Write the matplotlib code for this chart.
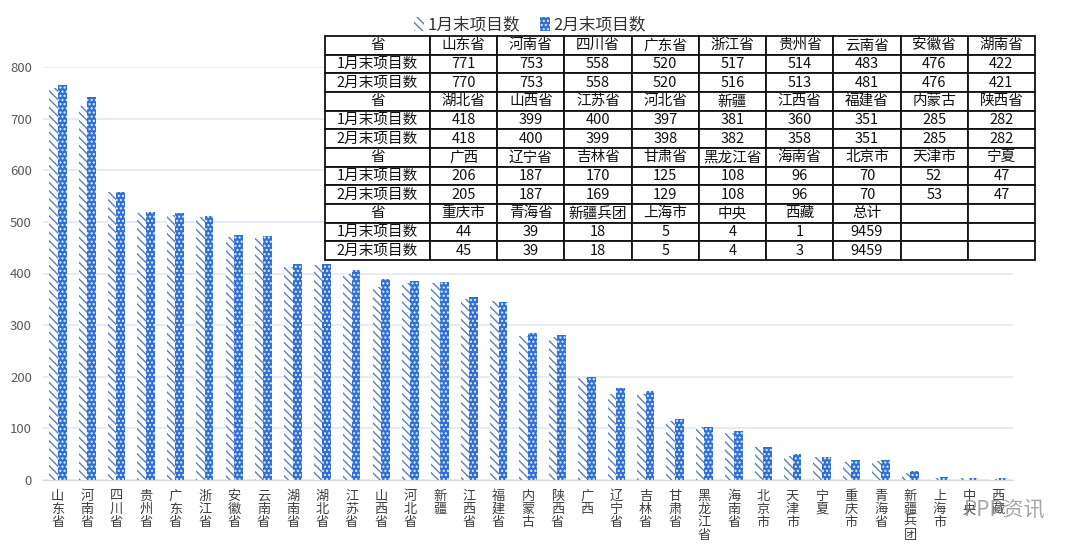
import numpy as np
import matplotlib.pyplot as plt

plt.rcParams['font.family'] = ['Noto Sans CJK SC', 'DejaVu Sans']
plt.rcParams['hatch.linewidth'] = 1.0

# bar chart data
provinces = ['山东省', '河南省', '四川省', '贵州省', '广东省', '浙江省', '安徽省', '云南省',
             '湖南省', '湖北省', '江苏省', '山西省', '河北省', '新疆', '江西省', '福建省',
             '内蒙古', '陕西省', '广西', '辽宁省', '吉林省', '甘肃省', '黑龙江省', '海南省',
             '北京市', '天津市', '宁夏', '重庆市', '青海省', '新疆兵团', '上海市', '中央', '西藏']
jan_counts = [759, 724, 558, 518, 513, 510, 471, 468, 413, 416, 400, 374, 381, 381, 350, 347,
              279, 277, 198, 167, 167, 115, 102, 92, 63, 47, 45, 34, 37, 14, 3, 3, 2]
feb_counts = [765, 741, 558, 520, 518, 511, 475, 473, 418, 418, 407, 389, 386, 383, 354, 345,
              284, 281, 199, 179, 172, 118, 103, 95, 64, 50, 45, 38, 38, 17, 5, 4, 4]

# table data
table_names = ['山东省', '河南省', '四川省', '广东省', '浙江省', '贵州省', '云南省', '安徽省', '湖南省',
               '湖北省', '山西省', '江苏省', '河北省', '新疆', '江西省', '福建省', '内蒙古', '陕西省',
               '广西', '辽宁省', '吉林省', '甘肃省', '黑龙江省', '海南省', '北京市', '天津市', '宁夏',
               '重庆市', '青海省', '新疆兵团', '上海市', '中央', '西藏', '总计', '', '']
table_jan = ['771', '753', '558', '520', '517', '514', '483', '476', '422',
             '418', '399', '400', '397', '381', '360', '351', '285', '282',
             '206', '187', '170', '125', '108', '96', '70', '52', '47',
             '44', '39', '18', '5', '4', '1', '9459', '', '']
table_feb = ['770', '753', '558', '520', '516', '513', '481', '476', '421',
             '418', '400', '399', '398', '382', '358', '351', '285', '282',
             '205', '187', '169', '129', '108', '96', '70', '53', '47',
             '45', '39', '18', '5', '4', '3', '9459', '', '']

fig = plt.figure(figsize=(10.8, 5.57), dpi=100)
ax = fig.add_axes([43/1080, 1-480/557, 970/1080, 413/557])

x = np.arange(len(provinces))
w = 0.3
b1 = ax.bar(x - 0.14, jan_counts, w, facecolor='white', edgecolor='#5a7fbf',
            hatch='\\\\\\\\', linewidth=0, label='1月末项目数', zorder=2)
b2 = ax.bar(x + 0.15, feb_counts, w, facecolor='#2f70d2', edgecolor='#e4eefc',
            hatch='....', linewidth=0, label='2月末项目数', zorder=2)

ax.set_xlim(-0.5, len(provinces) - 0.5)
ax.set_ylim(0, 800)
ax.set_yticks(range(0, 801, 100))
ax.yaxis.grid(True, color='#e3e9f2', linewidth=1.2, zorder=0)
ax.set_axisbelow(True)
for s in ['top', 'right', 'left']:
    ax.spines[s].set_visible(False)
ax.spines['bottom'].set_color('#d9d9d9')
ax.tick_params(axis='y', length=0, pad=8, labelsize=9.5, labelcolor='#595959')
ax.tick_params(axis='x', length=0, pad=7)
ax.set_xticks(x)
ax.set_xticklabels(['\n'.join(p) for p in provinces], fontsize=9.5,
                   color='#404040', linespacing=1.0, va='top')

# table overlay
tax = fig.add_axes([325/1080, 1-260/557, 710/1080, 224/557])
tax.axis('off')
rows = []
for i in range(4):
    rows.append(['省'] + table_names[i*9:(i+1)*9])
    rows.append(['1月末项目数'] + table_jan[i*9:(i+1)*9])
    rows.append(['2月末项目数'] + table_feb[i*9:(i+1)*9])
first_w = 105/710
col_w = [first_w] + [(1 - first_w)/9]*9
tbl = tax.table(cellText=rows, colWidths=col_w, cellLoc='center', bbox=[0, 0, 1, 1])
tbl.auto_set_font_size(False)
tbl.set_fontsize(10.5)
for (r, c), cell in tbl.get_celld().items():
    cell.set_edgecolor('#111111')
    cell.set_linewidth(1.3)
    cell.set_facecolor('white')
    cell.get_text().set_color('#111111')

fig.legend(handles=[b1, b2], loc='center', bbox_to_anchor=(530/1080, 1-25/557), ncol=2,
           frameon=False, fontsize=12, handlelength=0.6, handleheight=0.9,
           handletextpad=0.2, columnspacing=1.2, labelcolor='#333333')

fig.text(0.93, 0.085, 'PPP资讯', fontsize=15, color='#888888', alpha=0.75, ha='center', va='center')

fig.savefig('out.png', dpi=100)
